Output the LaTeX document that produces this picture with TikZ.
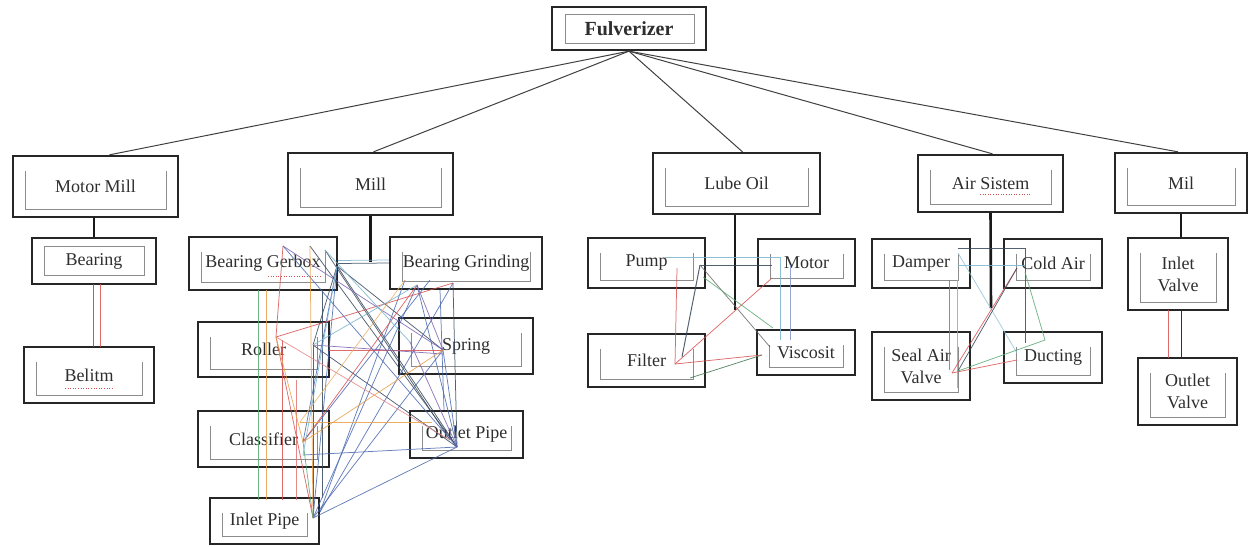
\documentclass[tikz,border=0pt]{standalone}
\usepackage{fontspec}
\setmainfont{Liberation Serif}
\definecolor{ldark}{HTML}{34465A}
\definecolor{lblue}{HTML}{4A68B0}
\definecolor{lred}{HTML}{D85050}
\definecolor{lgreen}{HTML}{58A870}
\definecolor{lorange}{HTML}{E8A048}
\definecolor{lteal}{HTML}{78B4CC}
\definecolor{lpurple}{HTML}{7A62B2}
\begin{document}
\begin{tikzpicture}[x=1pt,y=-1pt,
  ubox/.style={draw=black!85, line width=2.3pt, inner sep=0pt, align=center, text=black!82, font=\fontsize{18}{22}\selectfont},
  inbr/.style={draw=black!45, line width=0.7pt},
  conn/.style={draw=black!75, line width=1pt},
  thk/.style={draw=black!90, line width=2.6pt},
  mesh/.style={line width=0.75pt, opacity=0.85},
  spell/.style={draw=lred, line width=0.6pt, dotted}
]
\useasboundingbox (0,0) rectangle (1249,546);

% ---------- boxes ----------
\node[ubox, minimum width=154, minimum height=43, font=\bfseries\fontsize{20}{24}\selectfont] (ful) at (629,28.5) {Fulverizer};
\node[ubox, minimum width=165, minimum height=61] (mm) at (95.5,186.5) {Motor Mill};
\node[ubox, minimum width=165, minimum height=62] (mill) at (370.5,184) {Mill};
\node[ubox, minimum width=167, minimum height=61] (lube) at (736.5,183.5) {Lube Oil};
\node[ubox, minimum width=145, minimum height=57] (air) at (990.5,183.5) {Air Sistem};
\node[ubox, minimum width=132, minimum height=60] (mil) at (1181,183) {Mil};
\node[ubox, minimum width=124, minimum height=46] (bear) at (94,261) {Bearing};
\node[ubox, minimum width=130, minimum height=56] (belitm) at (89,375) {Belitm};
\node[ubox, minimum width=148, minimum height=53] (bgb) at (263,263.5) {Bearing Gerbox};
\node[ubox, minimum width=152, minimum height=52] (bgr) at (466,263) {Bearing Grinding};
\node[ubox, minimum width=131, minimum height=55] (roller) at (263.5,349.5) {Roller};
\node[ubox, minimum width=134, minimum height=56] (spring) at (466,346) {Spring};
\node[ubox, minimum width=131, minimum height=56] (class) at (263.5,439) {Classifier};
\node[ubox, minimum width=113, minimum height=47] (outp) at (466.5,434.5) {Outlet Pipe};
\node[ubox, minimum width=109, minimum height=46] (inp) at (264.5,521) {Inlet Pipe};
\node[ubox, minimum width=117, minimum height=50] (pump) at (646.5,263) {Pump};
\node[ubox, minimum width=97, minimum height=47] (motor) at (806.5,262.5) {Motor};
\node[ubox, minimum width=117, minimum height=53] (filter) at (646.5,360.5) {Filter};
\node[ubox, minimum width=98, minimum height=45] (visc) at (806,352.5) {Viscosit};
\node[ubox, minimum width=98, minimum height=49] (damper) at (921,263.5) {Damper};
\node[ubox, minimum width=98, minimum height=49] (cold) at (1053,263.5) {Cold Air};
\node[ubox, minimum width=98, minimum height=68] (seal) at (921,366) {Seal Air\\Valve};
\node[ubox, minimum width=98, minimum height=51] (duct) at (1053,357.5) {Ducting};
\node[ubox, minimum width=100, minimum height=72] (inv) at (1178,274) {Inlet\\Valve};
\node[ubox, minimum width=99, minimum height=67] (outv) at (1187.5,391.5) {Outlet\\Valve};

% ---------- inner text frames ----------
\foreach \n in {mm,mill,lube,air,mil,belitm,bgb,bgr,roller,spring,class,outp,inp,pump,motor,filter,visc,damper,cold,seal,duct,inv,outv}
  \draw[inbr] ([shift={(13,16)}]\n.north west) |- ([shift={(-13,-9)}]\n.south east) -- ([shift={(-13,16)}]\n.north east);
\draw[inbr] ([shift={(14,8)}]ful.north west) rectangle ([shift={(-13,-8)}]ful.south east);
\draw[inbr] ([shift={(13,9)}]bear.north west) rectangle ([shift={(-13,-10)}]bear.south east);

% spell-check marks
\coordinate (sp1a) at (65,388); \coordinate (sp1b) at (113,388);
\coordinate (sp2a) at (268,276); \coordinate (sp2b) at (322,276);
\coordinate (sp3a) at (980,194); \coordinate (sp3b) at (1030,194);
\draw[spell] (sp1a) -- (sp1b);
\draw[spell] (sp2a) -- (sp2b);
\draw[spell] (sp3a) -- (sp3b);

% ---------- top level connectors ----------
\draw[conn] (ful.south) -- ([xshift=14]mm.north);
\draw[conn] (ful.south) -- ([xshift=3]mill.north);
\draw[conn] (ful.south) -- ([xshift=6]lube.north);
\draw[conn] (ful.south) -- ([xshift=2]air.north);
\draw[conn] (ful.south) -- ([xshift=-3]mil.north);

% ---------- tree connectors ----------
\coordinate (millj) at (370.5,262);
\coordinate (lubej) at (735,310);
\coordinate (airj) at (991,308);
\draw[thk] (bear.north |- mm.south) -- (bear.north);
\draw[thk] (mill.south) -- (millj);
\draw[thk] ([xshift=-1.5]lube.south) -- (lubej);
\draw[thk] (air.south) -- (airj);
\draw[thk] (mil.south) -- (mil.south |- inv.north);

\coordinate (bb1) at (93,284); \coordinate (bb2) at (93,347);
\coordinate (bb3) at (100,284); \coordinate (bb4) at (100,347);
\draw[mesh, lgreen!70!black] (bb1) -- (bb2);
\draw[mesh, lred] (bb3) -- (bb4);

\coordinate (io1) at (1168,310); \coordinate (io2) at (1168,358);
\draw[mesh, lred] (io1) -- (io2);
\draw[draw=black!80, line width=1pt] (inv.south -| mil.south) -- (mil.south |- outv.north);

% ---------- Mill mesh ----------
\coordinate (gA) at (337,266); \coordinate (gB) at (283,246); \coordinate (gC) at (310,246); \coordinate (gD) at (325,250);
\coordinate (rA) at (417,285); \coordinate (rB) at (453,283); \coordinate (rC) at (430,280); \coordinate (rD) at (405,280);
\coordinate (oA) at (313,345); \coordinate (oR) at (276,337); \coordinate (oB) at (329,350);
\coordinate (sA) at (443,350); \coordinate (sB) at (443,354); \coordinate (sC) at (410,342);
\coordinate (cA) at (303,442); \coordinate (cO) at (300,422); \coordinate (cB) at (303,455);
\coordinate (pA) at (457,447); \coordinate (pO) at (432,422); \coordinate (pB) at (450,440);
\coordinate (iA) at (313,518); \coordinate (iB) at (320,512);
\coordinate (v1t) at (258,290); \coordinate (v1b) at (258,500);
\coordinate (v2t) at (266,290); \coordinate (v2b) at (266,500);
\coordinate (v3t) at (282,340); \coordinate (v3b) at (282,500);
\coordinate (v4t) at (296,380); \coordinate (v4b) at (296,500);
\coordinate (v5t) at (322,290); \coordinate (v5b) at (322,498);
\coordinate (v6t) at (440,290); \coordinate (v6b) at (444,410);

\draw[mesh, ldark] (bgb.east) -- (bgr.west);
\draw[mesh, lteal] ([yshift=3]bgb.east) -- ([yshift=3]bgr.west);

\draw[mesh, lgreen] (v1t) -- (v1b);
\draw[mesh, lorange] (v2t) -- (v2b);
\draw[mesh, lred] (v3t) -- (v3b);
\draw[mesh, lred!80] (v4t) -- (v4b);
\draw[mesh, ldark] (v5t) -- (v5b);
\draw[mesh, lblue] (v6t) -- (v6b);

\draw[mesh, ldark] (gA) -- (oA);
\draw[mesh, ldark] (gA) -- (pA);
\draw[mesh, ldark] (gA) -- (sA);
\draw[mesh, ldark] (oA) -- (pA);
\draw[mesh, ldark] (rB) -- (pA);
\draw[mesh, ldark] (oA) -- (iA);
\draw[mesh, ldark] (gC) -- (pA);
\draw[mesh, ldark] (gD) -- (pB);
\draw[mesh, lblue] (gA) -- (cA);
\draw[mesh, lblue] (gA) -- (iA);
\draw[mesh, lblue] (gB) -- (pA);
\draw[mesh, lblue] (rA) -- (pA);
\draw[mesh, lblue] (rA) -- (iA);
\draw[mesh, lblue] (sA) -- (pA);
\draw[mesh, lblue] (sA) -- (iA);
\draw[mesh, lblue] (cB) -- (pA);
\draw[mesh, lblue] (iA) -- (pA);
\draw[mesh, lblue] (rC) -- (cA);
\draw[mesh, lblue] (iB) -- (rB);
\draw[mesh, lblue] (rD) -- (iB);
\draw[mesh, lred] (rB) -- (oR);
\draw[mesh, lred] (rA) -- (cA);
\draw[mesh, lred] (oB) -- (sA);
\draw[mesh, lred] (oR) -- (iA);
\draw[mesh, lred] (gB) -- (oR);
\draw[mesh, lred!70] (oR) -- (pB);
\draw[mesh, lpurple] (gB) -- (sA);
\draw[mesh, lpurple] (rA) -- (sA);
\draw[mesh, lpurple] (oA) -- (sB);
\draw[mesh, lpurple] (sC) -- (pA);
\draw[mesh, lorange] (oR) -- (cA);
\draw[mesh, lorange] (sA) -- (cA);
\draw[mesh, lorange] (cO) -- (pO);
\draw[mesh, lorange] (gC) -- (iA);
\draw[mesh, lorange!80] (rD) -- (cO);
\draw[mesh, lgreen] (cA) -- (iA);
\draw[mesh, lteal] (gA) -- (cB);
\draw[mesh, lteal] (rA) -- (oA);
\draw[mesh, lteal] (gD) -- (sC);

% ---------- Lube Oil mesh ----------
\coordinate (puA) at (677,268); \coordinate (puB) at (700,265); \coordinate (puC) at (665,257); \coordinate (puD) at (703,277);
\coordinate (moA) at (772,265); \coordinate (moB) at (780,257); \coordinate (moC) at (772,278); \coordinate (moD) at (790,265);
\coordinate (fiA) at (675,364); \coordinate (fiB) at (690,378); \coordinate (fiC) at (682,357);
\coordinate (viA) at (770,347); \coordinate (viB) at (780,340); \coordinate (viC) at (790,340); \coordinate (viD) at (773,328); \coordinate (viE) at (762,355);

\draw[mesh, ldark, line width=1pt] (puB) -- (moA);
\draw[mesh, ldark, line width=1pt] (puB) -- (fiC);
\draw[mesh, black!60] (puB) -- (viA);
\draw[mesh, lteal] (puC) -- (moB) -- (viB);
\draw[mesh, lblue!70] (moD) -- (viC);
\draw[mesh, lred] (puA) -- (fiA);
\draw[mesh, lred] (fiA) -- (moC);
\draw[mesh, lred] (fiA) -- (viE);
\draw[mesh, lgreen] (puD) -- (viD);
\draw[mesh, lgreen!70!black] (fiB) -- (viE);

% ---------- Air system mesh ----------
\coordinate (daA) at (958,248); \coordinate (daB) at (958,265); \coordinate (daC) at (958,253); \coordinate (daD) at (949,280); \coordinate (daE) at (957,280);
\coordinate (coA) at (1025,248); \coordinate (coB) at (1025,265); \coordinate (coC) at (1017,268); \coordinate (coD) at (1025,272);
\coordinate (duA) at (1025,343); \coordinate (duB) at (1017,353); \coordinate (duC) at (1017,360); \coordinate (duD) at (1045,340);
\coordinate (seA) at (949,370); \coordinate (seB) at (952,373); \coordinate (seC) at (957,388); \coordinate (seD) at (958,371);

\draw[mesh, ldark, line width=1pt] (daA) -- (coA) -- (duA);
\draw[mesh, lteal] (daB) -- (coB);
\draw[mesh, lteal!80] (daC) -- (duB);
\draw[mesh, lred] (daD) -- (seA);
\draw[mesh, lteal] (daE) -- (seC);
\draw[mesh, lred] (seB) -- (coC);
\draw[mesh, ldark] (seD) -- (coC);
\draw[mesh, lred] (seB) -- (duC);
\draw[mesh, lgreen] (coD) -- (duD) -- (seD);
\end{tikzpicture}
\end{document}
